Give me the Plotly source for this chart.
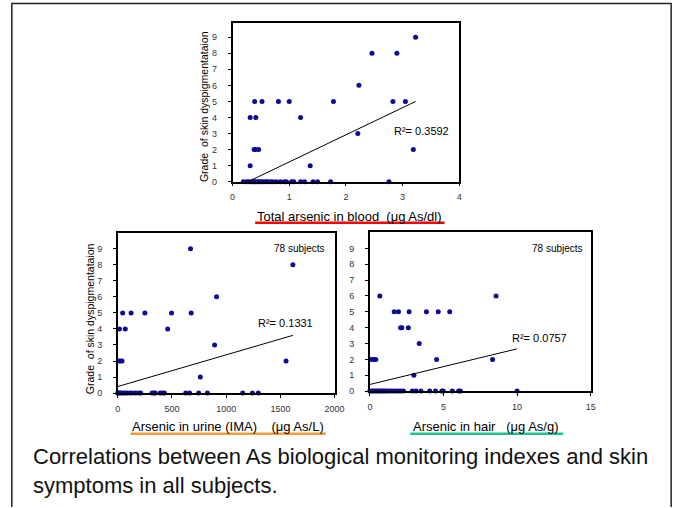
import plotly.graph_objects as go

W, H = 688, 508

# --- data ---
blood_x = [3.23, 2.46, 2.90, 2.23, 0.39, 0.52, 0.81, 1.00, 1.78, 2.83, 3.05,
           0.31, 0.41, 1.20, 2.21, 0.38, 0.41, 0.46, 3.19, 0.31, 1.37,
           0.19, 0.25, 0.29, 0.33, 0.37, 0.39, 0.42, 0.45, 0.48, 0.51, 0.55,
           0.59, 0.62, 0.67, 0.71, 0.77, 0.84, 0.91, 0.95, 1.04, 1.08, 1.20,
           1.27, 1.42, 1.50, 1.73, 2.76]
blood_y = [9, 8, 8, 6, 5, 5, 5, 5, 5, 5, 5,
           4, 4, 4, 3, 2, 2, 2, 2, 1, 1,
           0, 0, 0, 0, 0, 0, 0, 0, 0, 0, 0,
           0, 0, 0, 0, 0, 0, 0, 0, 0, 0, 0,
           0, 0, 0, 0, 0]

urine_x = [671, 1615, 911, 45, 123, 250, 496, 677, 15, 69, 460, 893,
           9, 24, 39, 1552, 761,
           0, 9, 21, 36, 51, 69, 90, 114, 135, 165, 195, 211, 316, 334, 346,
           391, 412, 430, 626, 662, 746, 827, 1152, 1242, 1296]
urine_y = [9, 8, 6, 5, 5, 5, 5, 5, 4, 4, 4, 3,
           2, 2, 2, 2, 1,
           0, 0, 0, 0, 0, 0, 0, 0, 0, 0, 0, 0, 0, 0, 0,
           0, 0, 0, 0, 0, 0, 0, 0, 0, 0]

hair_x = [0.67, 8.57, 1.65, 1.94, 2.66, 3.84, 4.64, 5.42, 2.08, 2.17, 2.61,
          3.35, 0.11, 0.27, 0.40, 4.53, 8.33, 2.99,
          0.0, 0.11, 0.22, 0.33, 0.45, 0.56, 0.67, 0.78, 0.89, 1.0, 1.12,
          1.27, 1.45, 1.61, 1.76, 1.94, 2.10, 2.28, 2.88, 3.13, 3.46, 4.06,
          4.46, 4.89, 4.98, 5.60, 6.03, 6.14, 10.0]
hair_y = [6, 6, 5, 5, 5, 5, 5, 5, 4, 4, 4,
          3, 2, 2, 2, 2, 2, 1,
          0, 0, 0, 0, 0, 0, 0, 0, 0, 0, 0,
          0, 0, 0, 0, 0, 0, 0, 0, 0, 0, 0,
          0, 0, 0, 0, 0, 0, 0]

# linear trend lines (slope, intercept) as shown in the picture
trend_blood = (1.69, -0.46)
trend_urine = (0.001975, 0.41)
trend_hair = (0.2245, 0.42)

r2_labels = ["R²= 0.3592", "R²= 0.1331", "R²= 0.0757"]
x_titles = ["Total arsenic in blood  (μg As/dl)",
            "Arsenic in urine (IMA)    (μg As/L)",
            "Arsenic in hair   (μg As/g)"]
y_title = "Grade  of skin dyspigmentataion"
caption = ("Correlations between As biological monitoring indexes and skin<br>"
           "symptoms in all subjects.")


def fx(p):
    return p / W


def fy(p):
    return 1 - p / H


fig = go.Figure()

dot = dict(color="#0a0a96", size=5)
sets = [(blood_x, blood_y, trend_blood, "x", "y"),
        (urine_x, urine_y, trend_urine, "x2", "y2"),
        (hair_x, hair_y, trend_hair, "x3", "y3")]
for xs, ys, (m, b), xa, ya in sets:
    fig.add_trace(go.Scatter(x=xs, y=ys, mode="markers", marker=dot,
                             xaxis=xa, yaxis=ya, cliponaxis=False,
                             showlegend=False))
    lo = 0 if xa != "x" else min(xs)
    hi = max(xs) if xa != "x3" else 9.98
    fig.add_trace(go.Scatter(x=[lo, hi], y=[m * lo + b, m * hi + b],
                             mode="lines", line=dict(color="black", width=1),
                             xaxis=xa, yaxis=ya, cliponaxis=False,
                             showlegend=False))

tickfont = dict(family="Liberation Sans, Arial", size=9, color="#333")
common_x = dict(showline=True, mirror=True, linecolor="black", linewidth=1.5,
                showgrid=False, zeroline=False, ticks="outside", ticklen=3,
                tickcolor="black", tickfont=tickfont, ticklabelstandoff=3)
common_y = dict(showline=True, mirror=True, linecolor="black", linewidth=1.5,
                showgrid=False, zeroline=False, ticks="outside", ticklen=3,
                tickcolor="black", tickfont=tickfont, tickvals=list(range(10)),
                ticklabelstandoff=9)

fig.update_layout(
    width=W, height=H, autosize=False,
    margin=dict(l=0, r=0, t=0, b=0),
    paper_bgcolor="white", plot_bgcolor="white",
    xaxis=dict(common_x, domain=[fx(234), fx(465)], range=[0, 4], dtick=1,
               anchor="y"),
    yaxis=dict(common_y, domain=[fy(183.5), fy(23)], range=[0, 9.9],
               anchor="x"),
    xaxis2=dict(common_x, domain=[fx(117), fx(338)], range=[0, 2000],
                dtick=500, anchor="y2"),
    yaxis2=dict(common_y, domain=[fy(397), fy(235)], range=[0, 10],
                anchor="x2"),
    xaxis3=dict(common_x, domain=[fx(374), fx(599)], range=[0, 15], dtick=5,
                anchor="y3"),
    yaxis3=dict(common_y, domain=[fy(395), fy(234)], range=[0, 10.05],
                anchor="x3"),
)

txt = "Liberation Sans, Arial"
ann = []


def note(x, y, text, size, color="black", angle=0, xanchor="center",
         align="center"):
    ann.append(dict(x=fx(x), y=fy(y), xref="paper", yref="paper", text=text,
                    showarrow=False, xanchor=xanchor, yanchor="middle",
                    textangle=angle, align=align,
                    font=dict(family=txt, size=size, color=color)))


note(353, 219, x_titles[0], 13)
note(229, 431, x_titles[1], 13)
note(492, 431, x_titles[2], 13)
note(205, 108, y_title, 10.5, angle=-90)
note(88, 322, y_title, 10.5, angle=-90)
note(427, 132, r2_labels[0], 11)
note(288, 326, r2_labels[1], 11)
note(547, 341, r2_labels[2], 11)
note(302, 251, "78 subjects", 10)
note(565, 251, "78 subjects", 10)
note(29, 475.5, caption, 22, color="#111", xanchor="left", align="left")

shapes = [
    dict(type="line", xref="paper", yref="paper", x0=fx(257), x1=fx(450),
         y0=fy(225), y1=fy(225), line=dict(color="#ff0000", width=2.5)),
    dict(type="line", xref="paper", yref="paper", x0=fx(130), x1=fx(329),
         y0=fy(438), y1=fy(438), line=dict(color="#f39a3c", width=2.5)),
    dict(type="line", xref="paper", yref="paper", x0=fx(415), x1=fx(571),
         y0=fy(438), y1=fy(438), line=dict(color="#1ec391", width=2.5)),
    dict(type="path", xref="paper", yref="paper",
         path=f"M {fx(9)},{fy(512)} L {fx(9)},{fy(3.5)} L {fx(681)},{fy(3.5)} "
              f"L {fx(681)},{fy(512)}",
         line=dict(color="#222", width=1.5)),
]

fig.update_layout(annotations=ann, shapes=shapes)

# page body has a default 8px margin; drop it so the figure fills the window
page_js = ("document.body.style.margin='0';"
           "document.body.style.overflow='hidden';"
           "document.documentElement.style.overflow='hidden';")
fig.write_html("out.html", post_script=page_js,
               config={"displayModeBar": False})
